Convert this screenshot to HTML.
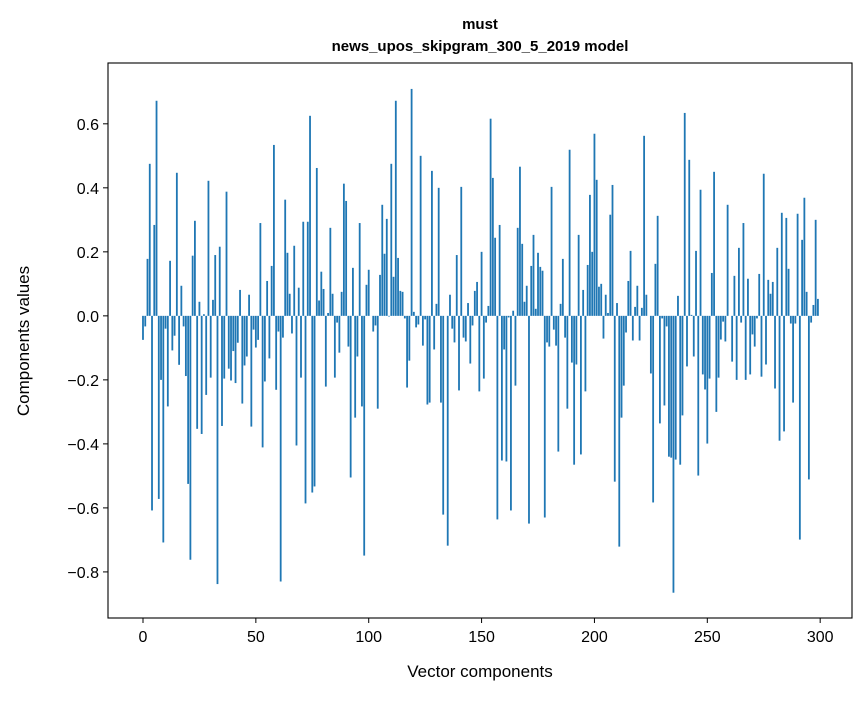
<!DOCTYPE html>
<html><head><meta charset="utf-8"><style>
body{margin:0;background:#fff;}
svg text{font-family:"Liberation Sans","DejaVu Sans",sans-serif;fill:#000;}
</style></head><body>
<svg id="chart" width="867" height="696" xmlns="http://www.w3.org/2000/svg">
<rect width="867" height="696" fill="#fff"/>
<text x="480" y="29" text-anchor="middle" font-size="15" font-weight="bold">must</text>
<text x="480" y="51" text-anchor="middle" font-size="15" font-weight="bold">news_upos_skipgram_300_5_2019 model</text>
<g id="bars"></g>
<g id="axes"></g>
<text x="480" y="677" text-anchor="middle" font-size="17">Vector components</text>
<text transform="translate(29,341) rotate(-90)" text-anchor="middle" font-size="17">Components values</text>
</svg>
<script>
const values = [
-0.075,-0.033,0.178,0.475,-0.608,0.284,0.672,-0.572,-0.2,-0.708,
-0.04,-0.283,0.172,-0.108,-0.062,0.447,-0.153,0.094,-0.033,-0.188,
-0.525,-0.762,0.188,0.297,-0.353,0.044,-0.369,0.005,-0.247,0.422,
-0.193,0.05,0.19,-0.838,0.216,-0.344,-0.196,0.388,-0.165,-0.202,
-0.11,-0.21,-0.084,0.081,-0.274,-0.155,-0.127,0.066,-0.346,-0.043,
-0.099,-0.075,0.29,-0.411,-0.205,0.109,-0.133,0.156,0.534,-0.231,
-0.049,-0.83,-0.068,0.363,0.197,0.069,-0.055,0.219,-0.405,0.088,
-0.193,0.294,-0.586,0.294,0.625,-0.552,-0.533,0.462,0.048,0.138,
0.084,-0.221,0.009,0.275,0.069,-0.193,-0.021,-0.115,0.075,0.413,
0.359,-0.096,-0.505,0.15,-0.318,-0.127,0.29,-0.283,-0.749,0.097,
0.144,0.0,-0.049,-0.03,-0.29,0.128,0.347,0.194,0.303,-0.002,
0.475,0.122,0.672,0.181,0.078,0.075,-0.008,-0.224,-0.14,0.709,
0.0125,-0.036,-0.027,0.5,-0.093,-0.011,-0.277,-0.271,0.453,-0.105,
0.0375,0.4,-0.271,-0.621,0.0,-0.718,0.066,-0.04,-0.083,0.19,
-0.233,0.403,-0.068,-0.08,0.04,-0.149,-0.03,0.078,0.106,-0.236,
0.2,-0.196,-0.021,0.031,0.616,0.431,0.244,-0.636,0.284,-0.452,
-0.105,-0.455,-0.005,-0.608,0.016,-0.218,0.275,0.466,0.225,0.044,
0.094,-0.649,0.156,0.253,0.022,0.197,0.153,0.141,-0.63,-0.083,
-0.096,0.403,-0.043,-0.093,-0.424,0.0375,0.178,-0.068,-0.29,0.519,
-0.146,-0.465,-0.152,0.253,-0.433,0.081,-0.236,0.159,0.378,0.2,
0.569,0.425,0.091,0.1,-0.071,0.066,0.009,0.316,0.409,-0.518,
0.04,-0.721,-0.318,-0.218,-0.052,0.109,0.203,-0.077,0.028,0.094,
-0.077,0.025,0.5625,0.066,0.0,-0.18,-0.583,0.1625,0.3125,-0.336,
-0.008,-0.28,-0.033,-0.44,-0.443,-0.865,-0.449,0.0625,-0.465,-0.311,
0.634,-0.158,0.4875,0.003,-0.127,0.203,-0.499,0.394,-0.183,-0.23,
-0.399,-0.196,0.134,0.45,-0.3,-0.193,-0.074,-0.018,-0.08,0.347,
0.0,-0.143,0.125,-0.2,0.2125,-0.021,0.29,-0.2,0.116,-0.183,
-0.058,-0.096,-0.008,0.131,-0.19,0.444,-0.152,0.1125,0.069,0.106,
-0.227,0.2125,-0.39,0.322,-0.361,0.306,0.147,-0.024,-0.271,-0.024,
0.319,-0.699,0.2375,0.369,0.075,-0.511,-0.021,0.034,0.3,0.053
];
const xTicks = [0,50,100,150,200,250,300];
const yTicks = [-0.8,-0.6,-0.4,-0.2,0.0,0.2,0.4,0.6];
const yTickLabels = ["\u22120.8","\u22120.6","\u22120.4","\u22120.2","0.0","0.2","0.4","0.6"];

const L=108,R=852,T=63,B=618;
const xMin=-15.5,xMax=314.1,yMin=-0.944,yMax=0.79;
const xs=v=>L+(v-xMin)/(xMax-xMin)*(R-L);
const ys=v=>B-(v-yMin)/(yMax-yMin)*(B-T);
const NS="http://www.w3.org/2000/svg";
const bars=document.getElementById('bars');
const bw=(xs(0.8)-xs(0));
values.forEach((v,i)=>{
  const r=document.createElementNS(NS,'rect');
  const y0=ys(0),y1=ys(v);
  r.setAttribute('x',xs(i)-bw/2);
  r.setAttribute('y',Math.min(y0,y1));
  r.setAttribute('width',bw);
  r.setAttribute('height',Math.max(Math.abs(y1-y0),0.01));
  r.setAttribute('fill','#1f77b4');
  
  
  bars.appendChild(r);
});
const ax=document.getElementById('axes');
const frame=document.createElementNS(NS,'rect');
frame.setAttribute('x',L);frame.setAttribute('y',T);
frame.setAttribute('width',R-L);frame.setAttribute('height',B-T);
frame.setAttribute('fill','none');frame.setAttribute('stroke','#000');frame.setAttribute('stroke-width','1.1');


ax.appendChild(frame);
xTicks.forEach(t=>{
  const x=xs(t);
  const l=document.createElementNS(NS,'line');
  l.setAttribute('x1',x);l.setAttribute('x2',x);l.setAttribute('y1',B);l.setAttribute('y2',B+5);
  l.setAttribute('stroke','#000');
  
  
  ax.appendChild(l);
  const tx=document.createElementNS(NS,'text');
  tx.setAttribute('x',x);tx.setAttribute('y',B+24);tx.setAttribute('text-anchor','middle');tx.setAttribute('font-size','16');
  tx.textContent=t;
  
  
  ax.appendChild(tx);
});
yTicks.forEach((t,i)=>{
  const y=ys(t);
  const l=document.createElementNS(NS,'line');
  l.setAttribute('x1',L-5);l.setAttribute('x2',L);l.setAttribute('y1',y);l.setAttribute('y2',y);
  l.setAttribute('stroke','#000');
  
  
  ax.appendChild(l);
  const tx=document.createElementNS(NS,'text');
  tx.setAttribute('x',L-9);tx.setAttribute('y',y+6);tx.setAttribute('text-anchor','end');tx.setAttribute('font-size','16');
  tx.textContent=yTickLabels[i];
  
  
  ax.appendChild(tx);
});
</script>
</body></html>
